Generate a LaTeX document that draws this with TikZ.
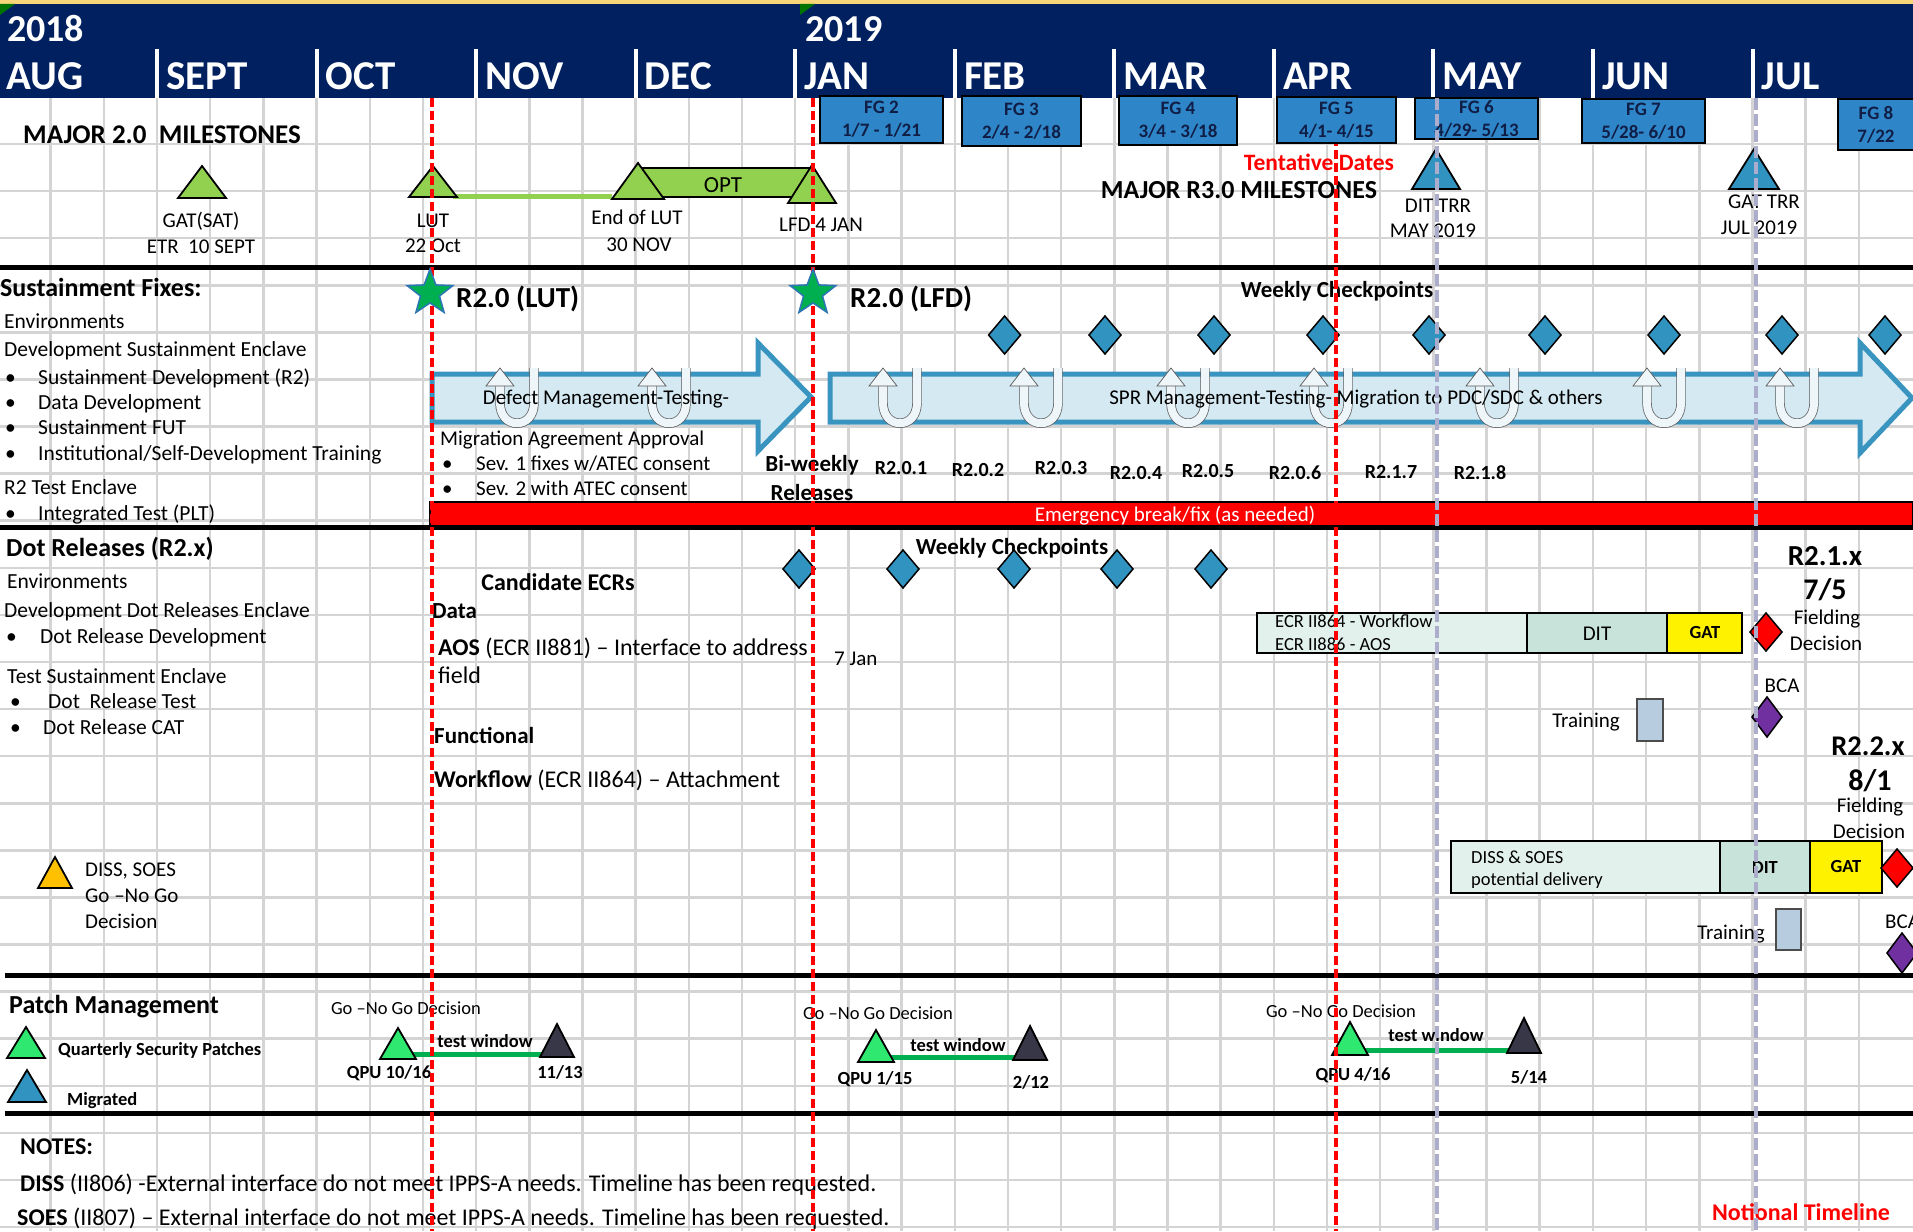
\documentclass[tikz,border=0pt]{standalone}
\usepackage{fontspec}
\setmainfont{Carlito}
\usetikzlibrary{shapes.geometric}

\definecolor{navy}{RGB}{0,32,96}
\definecolor{goldline}{RGB}{246,214,120}
\definecolor{gridgray}{RGB}{212,212,212}
\definecolor{fgblue}{RGB}{46,134,201}
\definecolor{fgtext}{RGB}{16,30,70}
\definecolor{msgreen}{RGB}{146,208,80}
\definecolor{ckblue}{RGB}{49,147,192}
\definecolor{arrowfill}{RGB}{212,233,242}
\definecolor{arrowline}{RGB}{58,148,192}
\definecolor{stargreen}{RGB}{0,176,80}
\definecolor{starline}{RGB}{46,117,182}
\definecolor{mint}{RGB}{227,241,236}
\definecolor{ditgreen}{RGB}{200,228,218}
\definecolor{bcapurple}{RGB}{112,48,160}
\definecolor{trainbox}{RGB}{184,204,224}
\definecolor{qpugreen}{RGB}{46,232,112}
\definecolor{qpudark}{RGB}{55,55,72}
\definecolor{winline}{RGB}{0,176,80}
\definecolor{trrgray}{RGB}{172,172,204}
\definecolor{dissorange}{RGB}{255,192,0}

\newcommand\setfs[1]{\fontsize{#1}{#1}\selectfont}
\def\mtri[#1](#2,#3,#4,#5){\draw[#1] ({#2-#5},#4) -- (#2,#3) -- ({#2+#5},#4) -- cycle;}
\def\diam[#1](#2,#3,#4,#5){\draw[#1] ({#2-#4},#3) -- (#2,{#3-#5}) -- ({#2+#4},#3) -- (#2,{#3+#5}) -- cycle;}
\def\uturn(#1,#2){%
	\draw[uband] ({#1-17},{#2+17}) -- ({#1-17},{#2+35}) .. controls ({#1-17},{#2+62}) and ({#1+17},{#2+62}) .. ({#1+17},{#2+35}) -- ({#1+17},#2);
	\draw[uhead] ({#1-31},{#2+18}) -- ({#1-17},#2) -- ({#1-3},{#2+18}) -- cycle;}

\tikzset{
	gridln/.style={draw=gridgray, line width=2.5pt},
	sepline/.style={draw=black, line width=5pt},
	lbl/.style={inner sep=0pt, text height={0.64*#1pt}, text depth=0pt, font=\setfs{#1}},
	blbl/.style={lbl=#1, font=\setfs{#1}\bfseries},
	lft/.style={lbl=#1, anchor=west},
	blft/.style={blbl=#1, anchor=west},
	mstri/.style={fill=msgreen, draw=black, line width=1.8pt},
	trrtri/.style={fill=ckblue, draw=black, line width=1.8pt},
	qputri/.style={fill=qpugreen, draw=black, line width=1.8pt},
	darktri/.style={fill=qpudark, draw=black, line width=1.8pt},
	ckdia/.style={fill=ckblue, draw=black, line width=1.5pt},
	reddia/.style={fill=red, draw=black, line width=1.5pt},
	bcadia/.style={fill=bcapurple, draw=black, line width=1.5pt},
	bigarrow/.style={fill=arrowfill, draw=arrowline, line width=5pt},
	uband/.style={draw=gray!70!black, line width=0.7pt, double=arrowfill!40!white, double distance=8pt},
	uhead/.style={draw=gray!70!black, line width=0.7pt, fill=arrowfill!40!white},
	relbox/.style={draw=black, line width=2pt},
	fgbox/.style={fill=fgblue, draw=black, line width=2pt, text=fgtext, align=center,
		font=\fontsize{19}{23}\selectfont\bfseries, inner sep=0pt},
	lfdstar/.style={star, star points=5, star point ratio=2.4, minimum size=48pt, inner sep=0pt,
		fill=stargreen, draw=starline, line width=1.5pt},
	reddash/.style={draw=red, line width=4pt, dash pattern=on 9pt off 4pt},
	trrdash/.style={draw=trrgray, line width=4pt, dash pattern=on 12pt off 4pt},
	winln/.style={draw=winline, line width=5pt}
}

\begin{document}
\begin{tikzpicture}[x=1pt, y=-1pt]
	\useasboundingbox (0,0) rectangle (1913,1231);
	\clip (0,0) rectangle (1913,1231);

	% header band
	\fill[goldline] (0,0) rectangle (1913,4);
	\fill[navy] (0,4) rectangle (1913,98);
	\fill[green!45!black] (0,4) -- (15,4) -- (0,15) -- cycle;
	\fill[green!45!black] (800,4) -- (815,4) -- (800,15) -- cycle;

	% grid
	\foreach \k in {1,...,35}
		\draw[gridln] ({53.18*\k-2.5},98) -- ({53.18*\k-2.5},1231);
	\foreach \j in {0,...,23}
		\draw[gridln] (0,{144+47.09*\j}) -- (1913,{144+47.09*\j});

	\foreach \m in {1,...,11}
		\draw[white, line width=4pt] ({159.55*\m-2.5},49) -- ({159.55*\m-2.5},98);
	\node[blft=38, text=white] (y2018) at (7,29) {2018};
	\node[blft=38, text=white] (y2019) at (805,29) {2019};
	\foreach \mn [count=\i from 0] in {AUG,SEPT,OCT,NOV,DEC,JAN,FEB,MAR,APR,MAY,JUN,JUL}
		\node[blft=41, text=white] (mon\i) at ({159.55*\i+6.5},76) {\mn};

	% section rules
	\draw[sepline] (0,267) -- (1913,267);
	\draw[sepline] (0,527) -- (1913,527);
	\draw[sepline] (5,975) -- (1913,975);
	\draw[sepline] (5,1113) -- (1913,1113);

	% major 2.0 milestones
	\node[blft=27] (major2) at (23,135) {MAJOR 2.0\ \ MILESTONES};
	\draw[msgreen, line width=5pt] (453,196) -- (612,196);
	\draw[fill=msgreen, draw=black, line width=1.5pt] (637,168) rectangle (814,197);
	\node[lbl=23] (opt) at (723,185) {OPT};
	\mtri[mstri](202,166,198,24)
	\mtri[mstri](433,166,197,24)
	\mtri[mstri](638,163,199,26)
	\mtri[mstri](812,165,203,24)
	\node[lbl=21] (gat) at (201,221) {GAT(SAT)};
	\node[lbl=21] (gatd) at (201,247) {ETR\ \ 10 SEPT};
	\node[lbl=21] (lut) at (433,221) {LUT};
	\node[lbl=21] (lutd) at (433,246) {22 Oct};
	\node[lbl=21] (eolut) at (637,218) {End of LUT};
	\node[lbl=21] (eolutd) at (639,245) {30 NOV};
	\node[lbl=21] (lfd) at (821,225) {LFD 4 JAN};

	% major 3.0 milestones
	\node[blbl=23.5, text=red] (tent) at (1319,163) {Tentative Dates};
	\node[blbl=26] (major3) at (1239,190) {MAJOR R3.0 MILESTONES};
	\mtri[trrtri](1436,149,189,24)
	\mtri[trrtri](1754,149,189,25)
	\node[lbl=21] (dittrr) at (1438,206) {DIT TRR};
	\node[lbl=21] (dittrrd) at (1433,231) {MAY 2019};
	\node[lbl=21] (gattrr) at (1764,202) {GAT TRR};
	\node[lbl=21] (gattrrd) at (1759,228) {JUL 2019};

	% sustainment fixes
	\node[blft=26] (susfix) at (0,288) {Sustainment Fixes:};
	\node[lft=21.5] (env1) at (4,322) {Environments};
	\node[lft=21.5] (dse) at (4,350) {Development Sustainment Enclave};
	\foreach \t [count=\i] in {Sustainment Development (R2),Data Development,Sustainment FUT,Institutional/Self-Development Training}{
		\node[lft=21.5] (sb\i) at (5,{352+25.3*\i}) {•};
		\node[lft=21.5] (st\i) at (38,{352+25.3*\i}) {\t};
	}
	\node[lft=21.5] (r2te) at (4,488) {R2 Test Enclave};
	\node[lft=21.5] (itb) at (5,514) {•};
	\node[lft=21.5] (itt) at (38,514) {Integrated Test (PLT)};

	\node[blft=29] (r2lut) at (456,298) {R2.0 (LUT)};
	\node[blft=29] (r2lfd) at (850,298) {R2.0 (LFD)};
	\node[blbl=23] (wk1) at (1337,290) {Weekly Checkpoints};
	\foreach \x in {1004.6,1105,1214,1323,1429,1545,1664,1782,1885}{
		\diam[ckdia](\x,335,16,19)
	}

	\draw[bigarrow] (432,374) -- (758,374) -- (758,343) -- (811,397) -- (758,451) -- (758,422) -- (432,422) -- cycle;
	\draw[bigarrow] (830,374) -- (1860,374) -- (1860,343) -- (1912,398) -- (1860,453) -- (1860,422) -- (830,422) -- cycle;
	\foreach \x in {517,669,900,1041,1188,1331,1497,1664,1797}{
		\uturn(\x,368)
	}
	\node[lbl=21] (defect) at (606,398) {Defect Management-Testing-};
	\node[lbl=21] (spr) at (1356,398) {SPR Management-Testing- Migration to PDC/SDC \& others};

	\node[lft=21] (maa) at (440,439) {Migration Agreement Approval};
	\node[lft=21] (sev1b) at (442,464) {•};
	\node[lft=21] (sev1) at (476,464) {Sev. 1 fixes w/ATEC consent};
	\node[lft=21] (sev2b) at (442,489) {•};
	\node[lft=21] (sev2) at (476,489) {Sev. 2 with ATEC consent};
	\node[blbl=23] (biw) at (812,464) {Bi-weekly};
	\node[blbl=23] (birel) at (812,493) {Releases};
	\foreach \r/\x/\y [count=\i] in {R2.0.1/901/468,R2.0.2/978/470,R2.0.3/1061/468,R2.0.4/1136/473,
		R2.0.5/1208/471,R2.0.6/1295/473,R2.1.7/1391/472,R2.1.8/1480/473}{
		\node[blbl=20] (rel\i) at (\x,\y) {\r};
	}

	\draw[fill=red, draw=black, line width=2.5pt] (430,502) rectangle (1913,526);
	\node[lbl=21, text=white] (ebf) at (1175,515) {Emergency break/fix (as needed)};

	% dot releases
	\node[blft=26] (dotrel) at (6,548) {Dot Releases (R2.x)};
	\node[lft=21.5] (env2) at (7,582) {Environments};
	\node[lft=21.5] (ddre) at (4,611) {Development Dot Releases Enclave};
	\node[lft=21.5] (drdb) at (6,637) {•};
	\node[lft=21.5] (drd) at (40,637) {Dot Release Development};
	\node[lft=21.5] (tse) at (7,677) {Test Sustainment Enclave};
	\node[lft=21.5] (drtb) at (10,702) {•};
	\node[lft=21.5] (drt) at (48,702) {Dot\ \ Release Test};
	\node[lft=21.5] (drcb) at (10,728) {•};
	\node[lft=21.5] (drc) at (43,728) {Dot Release CAT};
	\mtri[fill=dissorange, draw=black, line width=1.8pt](55,857,888,17)
	\node[lft=21] (dgng1) at (85,870) {DISS, SOES};
	\node[lft=21] (dgng2) at (85,896) {Go –No Go};
	\node[lft=21] (dgng3) at (85,922) {Decision};

	\node[blbl=24] (cand) at (558,583) {Candidate ECRs};
	\node[blft=23] (data) at (432,611) {Data};
	\node[lft=24] (aos) at (438,648) {\textbf{AOS} (ECR II881) – Interface to address};
	\node[lft=24] (field) at (438,676) {field};
	\node[blft=23] (func) at (434,736) {Functional};
	\node[lft=24] (wflow) at (434,780) {\textbf{Workflow} (ECR II864) – Attachment};
	\node[lft=21] (jan7) at (834,659) {7 Jan};
	\node[blbl=23] (wk2) at (1012,547) {Weekly Checkpoints};
	\foreach \x in {799,903,1014,1117,1211}{
		\diam[ckdia](\x,569,16,19)
	}

	% R2.1.x
	\draw[relbox, fill=mint] (1257,613) rectangle (1527,653);
	\node[lft=18.5] (ecr1) at (1275,622) {ECR II864 - Workflow};
	\node[lft=18.5] (ecr2) at (1275,645) {ECR II886 - AOS};
	\draw[relbox, fill=ditgreen] (1527,613) rectangle (1667,653);
	\node[lbl=21] (dit1) at (1597,634) {DIT};
	\draw[relbox, fill=yellow] (1667,613) rectangle (1742,653);
	\node[blbl=18.5] (gat1) at (1705,633) {GAT};
	\diam[reddia](1766,632,16,19)
	\node[blbl=29] (r21x) at (1825,556) {R2.1.x};
	\node[blbl=30] (r21d) at (1825,590) {7/5};
	\node[lbl=21] (fd1a) at (1827,618) {Fielding};
	\node[lbl=21] (fd1b) at (1826,644) {Decision};
	\node[lbl=21] (bca1) at (1782,686) {BCA};
	\diam[bcadia](1767,717,15,20)
	\draw[fill=trainbox, draw=black!70, line width=2pt] (1637,699) rectangle (1663,741);
	\node[lbl=21] (trn1) at (1586,721) {Training};

	% R2.2.x
	\draw[relbox, fill=mint] (1451,841) rectangle (1720,893);
	\node[lft=18.5] (diss1) at (1471,858) {DISS \& SOES};
	\node[lft=18.5] (diss2) at (1471,880) {potential delivery};
	\draw[relbox, fill=ditgreen] (1720,841) rectangle (1810,893);
	\node[blbl=18.5] (dit2) at (1765,868) {DIT};
	\draw[relbox, fill=yellow] (1810,841) rectangle (1882,893);
	\node[blbl=18.5] (gat2) at (1846,867) {GAT};
	\diam[reddia](1897,868,16,19)
	\node[blbl=28.5] (r22x) at (1868,746) {R2.2.x};
	\node[blbl=30] (r22d) at (1870,781) {8/1};
	\node[lbl=21] (fd2a) at (1870,806) {Fielding};
	\node[lbl=21] (fd2b) at (1869,832) {Decision};
	\draw[fill=trainbox, draw=black!70, line width=2pt] (1776,909) rectangle (1801,950);
	\node[lbl=21] (trn2) at (1731,933) {Training};
	\node[lft=21] (bca2) at (1885,922) {BCA};
	\diam[bcadia](1902,953,15,20)

	% patch management
	\node[blft=26] (patch) at (9,1005) {Patch Management};
	\mtri[qputri](26,1027,1058,19)
	\node[blft=18.5] (qsp) at (58,1050) {Quarterly Security Patches};
	\mtri[trrtri](27,1070,1102,19)
	\node[blft=18.5] (migr) at (67,1100) {Migrated};

	\foreach \gx/\gy/\ga/\gb/\gc/\gl/\qx/\qy/\q/\dx/\dy/\d/\wx/\wy [count=\i] in {
		406/1009/398/557/1054/1028/389/1073/QPU 10\slash 16/560/1073/11\slash 13/485/1042,
		878/1014/876/1030/1057/1030/875/1079/QPU 1\slash 15/1031/1083/2\slash 12/958/1046,
		1341/1012/1350/1524/1050/1022/1353/1075/QPU 4\slash 16/1529/1078/5\slash 14/1436/1036}{
		\node[lbl=18.5] (gng\i) at (\gx,\gy) {Go –No Go Decision};
		\draw[winln] ({\ga+12},\gc) -- (\gb,\gc);
		\mtri[qputri](\ga,\gl,{\gc+5},18)
		\mtri[darktri](\gb,{\gl-4},{\gc+3},17)
		\node[blbl=18.5] (tw\i) at (\wx,\wy) {test window};
		\node[blbl=18.5] (qpu\i) at (\qx,\qy) {\q};
		\node[blbl=18.5] (end\i) at (\dx,\dy) {\d};
	}

	% notes
	\node[blft=24] (notes) at (20,1147) {NOTES:};
	\node[lft=24] (note1) at (20,1184) {\textbf{DISS} (II806) -External interface do not meet IPPS-A needs. Timeline has been requested.};
	\node[lft=24] (note2) at (17,1218) {\textbf{SOES} (II807) – External interface do not meet IPPS-A needs. Timeline has been requested.};
	\node[blbl=24, text=red] (notional) at (1801,1213) {Notional Timeline};

	% today / release markers
	\foreach \x in {432,813,1336}{
		\draw[reddash] (\x,98) -- (\x,1231);
	}

	\node[fgbox, minimum width=123pt, minimum height=47pt] (fg2) at (881.5,119.5) {FG 2\\1/7 - 1/21};
	\node[fgbox, minimum width=119pt, minimum height=50pt] (fg3) at (1021.5,121) {FG 3\\2/4 - 2/18};
	\node[fgbox, minimum width=118pt, minimum height=49pt] (fg4) at (1178,120.5) {FG 4\\3/4 - 3/18};
	\node[fgbox, minimum width=119pt, minimum height=46pt] (fg5) at (1336.5,120) {FG 5\\4/1- 4/15};
	\node[fgbox, minimum width=123pt, minimum height=41pt] (fg6) at (1476.5,118.5) {FG 6\\4/29- 5/13};
	\node[fgbox, minimum width=123pt, minimum height=44pt] (fg7) at (1643.5,121) {FG 7\\5/28- 6/10};
	\node[fgbox, minimum width=76pt, minimum height=51pt] (fg8) at (1876,124.5) {FG 8\\7/22};

	\node[lfdstar] (lutstar) at (430,293) {};
	\node[lfdstar] (lfdstar) at (813,293) {};

	\foreach \x in {1437,1756}{
		\draw[trrdash] (\x,98) -- (\x,1231);
	}
\end{tikzpicture}
\end{document}
